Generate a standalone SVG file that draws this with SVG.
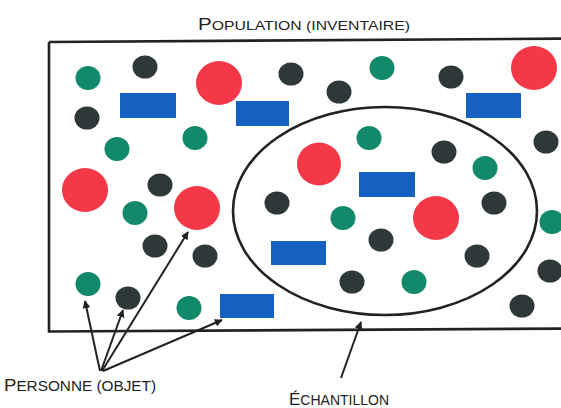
<svg xmlns="http://www.w3.org/2000/svg" width="561" height="408" viewBox="0 0 561 408">
<defs>
<style>
.g{fill:#11896a}
.d{fill:#2e3838}
.r{fill:#f53848}
.b{fill:#1660c2}
.frame{fill:none;stroke:#222;stroke-width:2.6}
.arr{fill:none;stroke:#222;stroke-width:2;marker-end:url(#ah)}
.lbl{font-family:"Liberation Sans",Arial,sans-serif;fill:#222}
</style>
<marker id="ah" viewBox="0 0 10 10" refX="9" refY="5" markerWidth="8" markerHeight="8" markerUnits="userSpaceOnUse" orient="auto">
<path d="M0,0 L10,5 L0,10 z" fill="#222"/>
</marker>
</defs>
<rect width="561" height="408" fill="#fff"/>
<g id="population">
<path class="frame" d="M49,42 L580,38.5 M49,42 L49,331.5 L580,328.5"/>
<text class="lbl" x="198" y="30" textLength="212" lengthAdjust="spacingAndGlyphs"><tspan font-size="17">P</tspan><tspan font-size="13">OPULATION (INVENTAIRE)</tspan></text>
</g>
<g id="echantillon">
<ellipse class="frame" cx="385" cy="211" rx="152" ry="104"/>
<text class="lbl" x="289" y="405" textLength="100" lengthAdjust="spacingAndGlyphs"><tspan font-size="17">É</tspan><tspan font-size="14">CHANTILLON</tspan></text>
</g>
<g id="personne">
<text class="lbl" x="4" y="391" textLength="152" lengthAdjust="spacingAndGlyphs"><tspan font-size="17">P</tspan><tspan font-size="14">ERSONNE (OBJET)</tspan></text>
</g>
<g id="elements">
<ellipse class="g" cx="88" cy="78" rx="12.5" ry="12"/>
<ellipse class="g" cx="117" cy="149" rx="12.5" ry="12"/>
<ellipse class="g" cx="382" cy="68" rx="12.5" ry="12"/>
<ellipse class="g" cx="195" cy="138" rx="12.5" ry="12"/>
<ellipse class="g" cx="369" cy="138" rx="12.5" ry="12"/>
<ellipse class="g" cx="485" cy="168" rx="12.5" ry="12"/>
<ellipse class="g" cx="135" cy="213" rx="12.5" ry="12"/>
<ellipse class="g" cx="343" cy="218" rx="12.5" ry="12"/>
<ellipse class="g" cx="552" cy="222" rx="12.5" ry="12"/>
<ellipse class="g" cx="88" cy="284" rx="12.5" ry="12"/>
<ellipse class="g" cx="189" cy="308" rx="12.5" ry="12"/>
<ellipse class="g" cx="414" cy="282" rx="12.5" ry="12"/>
<ellipse class="d" cx="145" cy="67" rx="12.5" ry="11.5"/>
<ellipse class="d" cx="291" cy="74" rx="12.5" ry="11.5"/>
<ellipse class="d" cx="339" cy="92" rx="12.5" ry="11.5"/>
<ellipse class="d" cx="451" cy="77" rx="12.5" ry="11.5"/>
<ellipse class="d" cx="87" cy="118" rx="12.5" ry="11.5"/>
<ellipse class="d" cx="546" cy="142" rx="12.5" ry="11.5"/>
<ellipse class="d" cx="444" cy="152" rx="12.5" ry="11.5"/>
<ellipse class="d" cx="160" cy="185" rx="12.5" ry="11.5"/>
<ellipse class="d" cx="155" cy="246" rx="12.5" ry="11.5"/>
<ellipse class="d" cx="277" cy="203" rx="12.5" ry="11.5"/>
<ellipse class="d" cx="494" cy="203" rx="12.5" ry="11.5"/>
<ellipse class="d" cx="381" cy="240" rx="12.5" ry="11.5"/>
<ellipse class="d" cx="477" cy="256" rx="12.5" ry="11.5"/>
<ellipse class="d" cx="128" cy="298" rx="12.5" ry="11.5"/>
<ellipse class="d" cx="352" cy="282" rx="12.5" ry="11.5"/>
<ellipse class="d" cx="550" cy="271" rx="12.5" ry="11.5"/>
<ellipse class="d" cx="522" cy="306" rx="12.5" ry="11.5"/>
<ellipse class="d" cx="205" cy="256" rx="12.5" ry="11.5"/>
<ellipse class="r" cx="219" cy="83" rx="23" ry="22"/>
<ellipse class="r" cx="534" cy="68" rx="23" ry="22"/>
<ellipse class="r" cx="85" cy="190" rx="23" ry="22"/>
<ellipse class="r" cx="197" cy="208" rx="23" ry="22"/>
<ellipse class="r" cx="319" cy="164" rx="22" ry="21.5"/>
<ellipse class="r" cx="436" cy="218" rx="23" ry="22"/>
<rect class="b" x="120" y="93" width="56" height="25"/>
<rect class="b" x="236" y="101" width="53" height="25"/>
<rect class="b" x="466" y="93" width="55" height="25"/>
<rect class="b" x="359" y="172" width="56" height="25"/>
<rect class="b" x="271" y="241" width="55" height="24"/>
<rect class="b" x="220" y="294" width="54" height="24"/>
</g>
<g id="connecteurs">
<line class="arr" x1="100" y1="371" x2="85" y2="301"/>
<line class="arr" x1="101" y1="371" x2="123" y2="310"/>
<line class="arr" x1="102" y1="371" x2="188" y2="232"/>
<line class="arr" x1="103" y1="371" x2="222" y2="320"/>
<line class="arr" x1="341" y1="378" x2="361" y2="322"/>
</g>
</svg>
